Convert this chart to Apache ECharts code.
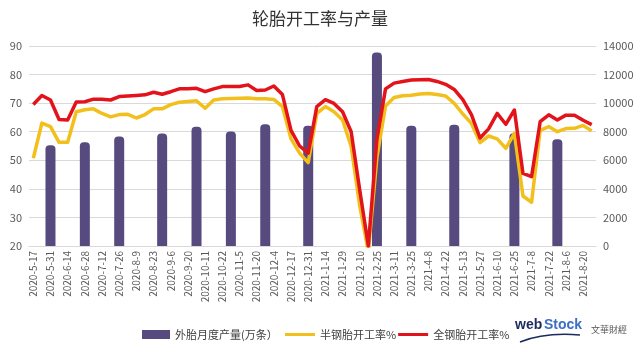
<!DOCTYPE html>
<html>
<head>
<meta charset="utf-8">
<script src="https://cdn.jsdelivr.net/npm/echarts@6/dist/echarts.min.js"></script>
<style>
  html, body { margin: 0; padding: 0; background: #fff; }
  #main { width: 640px; height: 353px; }
</style>
</head>
<body>
<div id="main"></div>
<script>
// 周度日期（横轴）
const dates = [
  '2020-5-17', '2020-5-24', '2020-5-31', '2020-6-7', '2020-6-14', '2020-6-21', '2020-6-28', '2020-7-5',
  '2020-7-12', '2020-7-19', '2020-7-26', '2020-8-2', '2020-8-9', '2020-8-16', '2020-8-23', '2020-8-30',
  '2020-9-6', '2020-9-13', '2020-9-20', '2020-9-27', '2020-10-11', '2020-10-15', '2020-10-22', '2020-10-29',
  '2020-11-5', '2020-11-12', '2020-11-20', '2020-11-27', '2020-12-4', '2020-12-10', '2020-12-17', '2020-12-24',
  '2020-12-31', '2021-1-7', '2021-1-14', '2021-1-21', '2021-1-29', '2021-2-4', '2021-2-10', '2021-2-18',
  '2021-2-25', '2021-3-4', '2021-3-11', '2021-3-18', '2021-3-25', '2021-4-1', '2021-4-8', '2021-4-15',
  '2021-4-22', '2021-4-29', '2021-5-13', '2021-5-20', '2021-5-27', '2021-6-3', '2021-6-10', '2021-6-17',
  '2021-6-25', '2021-7-1', '2021-7-8', '2021-7-15', '2021-7-22', '2021-7-29', '2021-8-6', '2021-8-13',
  '2021-8-20', '2021-8-27'
];

// 半钢胎开工率%
const semiSteel = [
  50.7, 63.0, 61.8, 56.3, 56.3, 67.0, 67.7, 68.0, 66.4, 65.2,
  66.0, 66.1, 64.8, 66.0, 68.0, 68.0, 69.5, 70.3, 70.6, 70.8,
  68.2, 71.1, 71.5, 71.6, 71.7, 71.8, 71.5, 71.5, 71.3, 68.8,
  57.5, 52.5, 49.2, 66.4, 68.8, 67.0, 64.1, 54.8, 34.0, 18.0,
  51.0, 69.0, 72.0, 72.6, 72.8, 73.2, 73.4, 73.0, 72.5, 69.9,
  66.2, 62.9, 56.2, 58.5, 57.5, 54.2, 59.4, 37.5, 35.3, 60.5,
  61.8, 60.0, 61.1, 61.2, 62.2, 60.3
];

// 全钢胎开工率%
const allSteel = [
  69.5, 72.7, 71.1, 64.3, 64.1, 70.4, 70.5, 71.4, 71.4, 71.1,
  72.3, 72.5, 72.7, 72.9, 73.8, 73.1, 74.0, 75.0, 75.0, 75.2,
  74.0, 75.0, 75.8, 75.8, 75.8, 76.4, 74.4, 74.6, 76.0, 73.0,
  60.5, 55.0, 52.5, 68.8, 71.2, 69.9, 67.0, 60.0, 39.5, 20.0,
  57.5, 75.0, 77.0, 77.6, 78.1, 78.2, 78.3, 77.6, 76.6, 74.8,
  71.2, 66.0, 57.8, 61.0, 66.4, 62.6, 67.6, 45.4, 44.3, 63.5,
  65.9, 64.1, 65.8, 65.8, 64.0, 62.5
];

// 外胎月度产量(万条)
const outputDates = ['2020-5-31', '2020-6-28', '2020-7-26', '2020-8-30', '2020-9-27', '2020-10-29', '2020-11-27',
  '2020-12-31', '2021-2-25', '2021-3-25', '2021-4-29', '2021-6-25', '2021-7-29'];
const outputValues = [7050, 7260, 7660, 7870, 8350, 8020, 8520, 8420, 13540, 8420, 8490, 7900, 7470];

const FONT = '"Noto Sans CJK SC", "Noto Sans", sans-serif';

const chart = echarts.init(document.getElementById('main'));

const legendText = { fontFamily: FONT, fontSize: 11, color: '#404040' };

const option = {
  animation: false,
  backgroundColor: '#fff',
  title: {
    text: '轮胎开工率与产量',
    left: 'center',
    top: 5,
    textStyle: { fontFamily: FONT, fontSize: 17, fontWeight: 'normal', color: '#333' }
  },
  grid: { left: 29, right: 44, top: 46, bottom: 107 },
  legend: [
    {
      left: 137,
      top: 324,
      itemWidth: 28,
      itemHeight: 9,
      itemGap: 4,
      textStyle: legendText,
      data: [{ name: '外胎月度产量(万条）', icon: 'rect' }]
    },
    {
      left: 280,
      top: 324,
      itemWidth: 30,
      itemHeight: 3,
      itemGap: 2,
      textStyle: legendText,
      data: [
        { name: '半钢胎开工率%', icon: 'rect' },
        { name: '全钢胎开工率%', icon: 'rect' }
      ]
    }
  ],
  xAxis: {
    type: 'category',
    data: dates,
    boundaryGap: true,
    axisLine: { lineStyle: { color: '#d9d9d9' } },
    axisTick: { show: false },
    axisLabel: {
      interval: 1,
      rotate: 90,
      fontFamily: FONT,
      fontSize: 10,
      color: '#595959',
      margin: 5
    }
  },
  yAxis: [
    {
      type: 'value',
      min: 20,
      max: 90,
      interval: 10,
      axisLine: { show: false },
      axisTick: { show: false },
      axisLabel: { fontFamily: FONT, fontSize: 11, color: '#595959', margin: 7 },
      splitLine: { lineStyle: { color: '#d9d9d9' } }
    },
    {
      type: 'value',
      min: 0,
      max: 14000,
      interval: 2000,
      axisLine: { show: false },
      axisTick: { show: false },
      axisLabel: {
        fontFamily: FONT, fontSize: 11, color: '#595959', margin: 7,
        formatter: v => String(v)
      },
      splitLine: { show: false }
    }
  ],
  series: [
    {
      name: '外胎月度产量(万条）',
      type: 'bar',
      yAxisIndex: 1,
      barWidth: 10,
      itemStyle: { color: '#574a7e', borderRadius: [4, 4, 0, 0] },
      data: outputDates.map((d, i) => [d, outputValues[i]])
    },
    {
      name: '半钢胎开工率%',
      type: 'line',
      symbol: 'none',
      lineStyle: { width: 3.5, color: '#f2c01c', join: 'round' },
      itemStyle: { color: '#f2c01c' },
      data: semiSteel
    },
    {
      name: '全钢胎开工率%',
      type: 'line',
      symbol: 'none',
      lineStyle: { width: 3.5, color: '#e3131b', join: 'round' },
      itemStyle: { color: '#e3131b' },
      data: allSteel
    }
  ],
  graphic: [
    {
      type: 'text', left: 515, top: 318,
      style: { text: 'web', fill: '#1d2a5e', font: 'bold 14px "Liberation Sans", sans-serif' }
    },
    {
      type: 'text', left: 544, top: 318,
      style: { text: 'Stock', fill: '#3b6fc4', font: 'bold 14px "Liberation Sans", sans-serif' }
    },
    {
      type: 'bezierCurve',
      shape: { x1: 520, y1: 342, x2: 580, y2: 335, cpx1: 545, cpy1: 332 },
      style: { stroke: '#1d2a5e', lineWidth: 1.5, fill: null }
    },
    {
      type: 'text', left: 591, top: 325,
      style: { text: '文華財經', fill: '#555', font: '9px "Noto Sans CJK TC", sans-serif' }
    }
  ]
};

chart.setOption(option);
</script>
</body>
</html>
